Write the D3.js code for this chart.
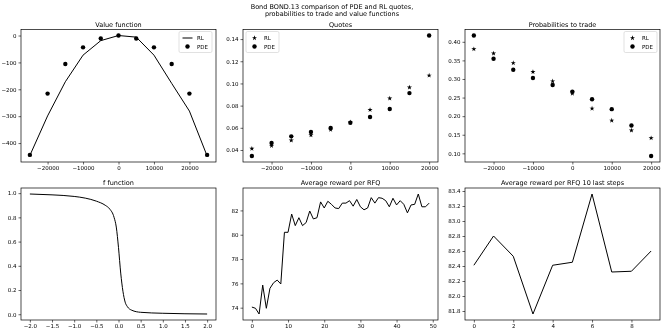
<!DOCTYPE html>
<html>
<head>
<meta charset="utf-8">
<script src="https://cdn.jsdelivr.net/npm/d3@7"></script>
<style>
  body { margin: 0; background: #fff; }
  svg { will-change: transform; }
  text { font-family: "DejaVu Sans", sans-serif; fill: #000; }
</style>
</head>
<body>
<svg id="fig" width="664" height="332"></svg>
<script>
// values
var inventory = [-25000, -20000, -15000, -10000, -5000, 0, 5000, 10000, 15000, 20000, 25000];
var valueRL  = [-446, -299, -172, -73, -19, 0, -6, -73, -178, -281, -448];
var valuePDE = [-444, -216, -106, -44, -11, 0, -11, -44, -106, -216, -444];

var quoteInv  = [-25000, -20000, -15000, -10000, -5000, 0, 5000, 10000, 15000, 20000];
var quotesRL  = [0.0412, 0.0438, 0.0486, 0.0534, 0.0583, 0.0650, 0.0762, 0.0865, 0.0964, 0.1072];
var quotesPDE = [0.0346, 0.0463, 0.0523, 0.0562, 0.0598, 0.0646, 0.0697, 0.0769, 0.0913, 0.1432];

var probRL  = [0.3804, 0.3688, 0.3430, 0.3190, 0.2938, 0.2610, 0.2206, 0.1884, 0.1616, 0.1410];
var probPDE = [0.4169, 0.3545, 0.3250, 0.3027, 0.2840, 0.2660, 0.2455, 0.2188, 0.1750, 0.0929];

var fX = [-2.0, -1.5, -1.0, -0.75, -0.5, -0.3, -0.2, -0.1, -0.05, 0.0, 0.05, 0.1, 0.15, 0.2, 0.3, 0.5, 1.0, 1.5, 2.0];
var fY = [0.993, 0.986, 0.973, 0.959, 0.934, 0.90, 0.87, 0.80, 0.72, 0.55, 0.34, 0.19, 0.10, 0.063, 0.033, 0.016, 0.008, 0.004, 0.002];

var reward = [74.05, 73.95, 73.48, 75.86, 73.95, 75.59, 76.05, 76.27, 75.95, 80.2,
              80.2, 81.7, 80.75, 81.4, 80.75, 81.0, 81.95, 81.3, 81.4, 82.7,
              82.2, 82.75, 82.5, 82.2, 82.15, 82.6, 82.6, 82.8, 82.35, 82.9,
              82.3, 82.05, 82.2, 83.05, 82.6, 83.05, 83.0, 82.8, 82.3, 83.0,
              82.45, 82.8, 82.5, 81.8, 82.45, 82.5, 83.35, 82.3, 82.3, 82.6];
var lastSteps = [82.41, 82.8, 82.53, 81.76, 82.41, 82.45, 83.36, 82.32, 82.33, 82.6];

var svg = d3.select("#fig");
svg.append("rect").attr("width", 664).attr("height", 332).attr("fill", "#fff");

function padded(vals, m) {
  var e = d3.extent(vals), p = (e[1] - e[0]) * (m || 0.05);
  return [e[0] - p, e[1] + p];
}

function panel(box, xd, yd, xt, yt, xf, yf, title) {
  var x = d3.scaleLinear().domain(xd).range([box[0], box[1]]);
  var y = d3.scaleLinear().domain(yd).range([box[3], box[2]]);
  var g = svg.append("g");
  var xa = d3.axisBottom(x).tickValues(xt).tickFormat(xf).tickSize(2.5).tickPadding(2);
  var ya = d3.axisLeft(y).tickValues(yt).tickFormat(yf).tickSize(2.5).tickPadding(2);
  var gx = g.append("g").attr("transform", "translate(0," + box[3] + ")").call(xa);
  var gy = g.append("g").attr("transform", "translate(" + box[0] + ",0)").call(ya);
  [gx, gy].forEach(function (a) {
    a.select(".domain").remove();
    a.selectAll("line").attr("stroke", "#000").attr("stroke-width", 0.6);
    a.selectAll("text").style("font-size", "5.5px").attr("fill", "#000");
  });
  g.append("text").attr("x", (box[0] + box[1]) / 2).attr("y", box[2] - 3)
    .attr("text-anchor", "middle").style("font-size", "6.5px").text(title);
  var marks = g.append("g");
  g.append("rect").attr("x", box[0]).attr("y", box[2])
    .attr("width", box[1] - box[0]).attr("height", box[3] - box[2])
    .attr("fill", "none").attr("stroke", "#000").attr("stroke-width", 0.7);
  return { g: marks, x: x, y: y, top: g };
}

var starSize = 8;

function legend(g, lx, ly, first) {
  var lg = g.append("g").attr("transform", "translate(" + lx + "," + ly + ")");
  lg.append("rect").attr("width", 33).attr("height", 21).attr("rx", 1.5)
    .attr("fill", "#fff").attr("fill-opacity", 0.8).attr("stroke", "#ccc").attr("stroke-width", 0.6);
  if (first === "line") {
    lg.append("line").attr("x1", 3.5).attr("x2", 13.5).attr("y1", 6.5).attr("y2", 6.5)
      .attr("stroke", "#000").attr("stroke-width", 1);
  } else {
    lg.append("path").attr("d", d3.symbol(d3.symbolStar, starSize)()).attr("transform", "translate(8.5,6.5)");
  }
  lg.append("circle").attr("cx", 8.5).attr("cy", 15).attr("r", 2.2);
  lg.append("text").attr("x", 18).attr("y", 8.5).style("font-size", "5.5px").text("RL");
  lg.append("text").attr("x", 18).attr("y", 17).style("font-size", "5.5px").text("PDE");
}

var top0 = 29.5, top1 = 162, bot0 = 188, bot1 = 320;
var cols = [[21, 216], [243, 438], [465, 660]];
var fInt = d3.format("d"), f2 = d3.format(".2f"), f1 = d3.format(".1f");

svg.append("text").attr("x", 332).attr("y", 8.5).attr("text-anchor", "middle")
  .style("font-size", "6.5px").text("Bond BOND.13 comparison of PDE and RL quotes,");
svg.append("text").attr("x", 332).attr("y", 16).attr("text-anchor", "middle")
  .style("font-size", "6.5px").text("probabilities to trade and value functions");

var invTicks = [-20000, -10000, 0, 10000, 20000];

// value function
var p1 = panel([cols[0][0], cols[0][1], top0, top1], padded(inventory), padded(valueRL.concat(valuePDE)),
  invTicks, [-400, -300, -200, -100, 0], fInt, fInt, "Value function");
p1.g.append("path").datum(inventory)
  .attr("d", d3.line().x(function (d) { return p1.x(d); }).y(function (d, i) { return p1.y(valueRL[i]); }))
  .attr("fill", "none").attr("stroke", "#000").attr("stroke-width", 1);
p1.g.selectAll("circle").data(inventory).join("circle")
  .attr("cx", function (d) { return p1.x(d); }).attr("cy", function (d, i) { return p1.y(valuePDE[i]); }).attr("r", 2.2);
legend(p1.top, 179, 31.5, "line");

// quotes
var p2 = panel([cols[1][0], cols[1][1], top0, top1], padded(quoteInv), padded(quotesRL.concat(quotesPDE)),
  invTicks, [0.04, 0.06, 0.08, 0.10, 0.12, 0.14], fInt, f2, "Quotes");
p2.g.selectAll("path.star").data(quoteInv).join("path").attr("class", "star")
  .attr("d", d3.symbol(d3.symbolStar, starSize)())
  .attr("transform", function (d, i) { return "translate(" + p2.x(d) + "," + p2.y(quotesRL[i]) + ")"; });
p2.g.selectAll("circle").data(quoteInv).join("circle")
  .attr("cx", function (d) { return p2.x(d); }).attr("cy", function (d, i) { return p2.y(quotesPDE[i]); }).attr("r", 2.2);
legend(p2.top, 246, 31.5, "star");

// probabilities
var p3 = panel([cols[2][0], cols[2][1], top0, top1], padded(quoteInv), padded(probRL.concat(probPDE)),
  invTicks, [0.10, 0.15, 0.20, 0.25, 0.30, 0.35, 0.40], fInt, f2, "Probabilities to trade");
p3.g.selectAll("path.star").data(quoteInv).join("path").attr("class", "star")
  .attr("d", d3.symbol(d3.symbolStar, starSize)())
  .attr("transform", function (d, i) { return "translate(" + p3.x(d) + "," + p3.y(probRL[i]) + ")"; });
p3.g.selectAll("circle").data(quoteInv).join("circle")
  .attr("cx", function (d) { return p3.x(d); }).attr("cy", function (d, i) { return p3.y(probPDE[i]); }).attr("r", 2.2);
legend(p3.top, 624, 31.5, "star");

// f function
var p4 = panel([cols[0][0], cols[0][1], bot0, bot1], padded(fX), padded(fY),
  [-2, -1.5, -1, -0.5, 0, 0.5, 1, 1.5, 2], [0, 0.2, 0.4, 0.6, 0.8, 1.0], f1, f1, "f function");
p4.g.append("path").datum(fX)
  .attr("d", d3.line().curve(d3.curveMonotoneX).x(function (d) { return p4.x(d); }).y(function (d, i) { return p4.y(fY[i]); }))
  .attr("fill", "none").attr("stroke", "#000").attr("stroke-width", 1);

// average reward
var p5 = panel([cols[1][0], cols[1][1], bot0, bot1], padded([0, reward.length - 1]), padded(reward),
  [0, 10, 20, 30, 40, 50], [74, 76, 78, 80, 82], fInt, fInt, "Average reward per RFQ");
p5.g.append("path").datum(reward)
  .attr("d", d3.line().x(function (d, i) { return p5.x(i); }).y(function (d) { return p5.y(d); }))
  .attr("fill", "none").attr("stroke", "#000").attr("stroke-width", 1);

// last steps
var p6 = panel([cols[2][0], cols[2][1], bot0, bot1], padded([0, lastSteps.length - 1]), padded(lastSteps),
  [0, 2, 4, 6, 8], [81.8, 82.0, 82.2, 82.4, 82.6, 82.8, 83.0, 83.2, 83.4], fInt, f1, "Average reward per RFQ 10 last steps");
p6.g.append("path").datum(lastSteps)
  .attr("d", d3.line().x(function (d, i) { return p6.x(i); }).y(function (d) { return p6.y(d); }))
  .attr("fill", "none").attr("stroke", "#000").attr("stroke-width", 1);
</script>
</body>
</html>
